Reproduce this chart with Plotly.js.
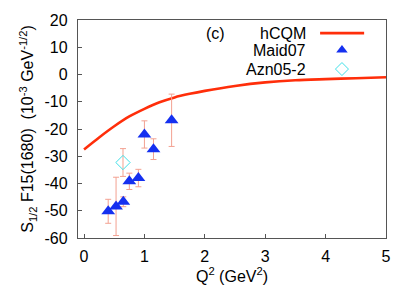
<!DOCTYPE html>
<html>
<head>
<meta charset="utf-8">
<script src="https://cdn.plot.ly/plotly-3.0.1.min.js"></script>
<style>html,body{margin:0;padding:0;background:#fff;}#chart{width:415px;height:291px;}</style>
</head>
<body>
<div id="chart"></div>
<script>
// hCQM model curve
const hcqmQ2 = [0, 0.25, 0.5, 0.75, 1.0, 1.25, 1.5, 1.75, 2.0, 2.5, 3.0, 3.5, 4.0, 4.5, 5.0];
const hcqmS = [-27.5, -23.1, -19.0, -15.4, -12.6, -10.2, -8.4, -7.1, -6.0, -4.2, -2.9, -2.1, -1.7, -1.35, -1.0];
// Maid07 points
const maidQ2 = [0.40, 0.53, 0.65, 0.75, 0.90, 1.00, 1.15, 1.45];
const maidS = [-50.2, -48.4, -46.7, -39.2, -38.0, -22.0, -27.4, -16.8];
const maidErr = [4.4, 10.7, 1.8, 3.0, 3.2, 5.0, 3.8, 9.6];
// Azn05-2 point
const aznQ2 = [0.645];
const aznS = [-32.3];
const aznErr = [5.1];
// tick labels
const xTicks = [0, 1, 2, 3, 4, 5];
const yTicks = [-60, -50, -40, -30, -20, -10, 0, 10, 20];

const FONT = 'Liberation Sans, Arial, Helvetica, sans-serif';
const RED = '#ff2e0a';
const BLUE = '#1530f0';
const CYAN = '#3fe0e8';
const ERR = '#f3a191';
const FS = 16;

const traces = [
  {x: hcqmQ2, y: hcqmS, mode: 'lines', line: {color: RED, width: 2.6, shape: 'spline', smoothing: 0.8}, showlegend: false, hoverinfo: 'skip'},
  {x: maidQ2, y: maidS, mode: 'markers', marker: {symbol: 'triangle-up', size: 12, color: BLUE},
   error_y: {type: 'data', array: maidErr, color: ERR, thickness: 1, width: 3}, showlegend: false},
  {x: aznQ2, y: aznS, mode: 'markers', marker: {symbol: 'diamond-open', size: 11, color: CYAN, line: {width: 1}},
   error_y: {type: 'data', array: aznErr, color: ERR, thickness: 1, width: 3}, showlegend: false},
  // legend samples on hidden overlay axes
  {x: [0.786, 0.929], y: [0.94, 0.94], xaxis: 'x2', yaxis: 'y2', mode: 'lines', line: {color: RED, width: 2.6}, showlegend: false, hoverinfo: 'skip'},
  {x: [0.857], y: [0.862], xaxis: 'x2', yaxis: 'y2', mode: 'markers', marker: {symbol: 'triangle-up', size: 10, color: BLUE}, showlegend: false, hoverinfo: 'skip'},
  {x: [0.857], y: [0.775], xaxis: 'x2', yaxis: 'y2', mode: 'markers', marker: {symbol: 'diamond-open', size: 10, color: CYAN, line: {width: 1}}, showlegend: false, hoverinfo: 'skip'}
];

const layout = {
  width: 415, height: 291,
  margin: {l: 78, r: 29, t: 20, b: 53, pad: 0},
  paper_bgcolor: '#fff', plot_bgcolor: '#fff',
  font: {family: FONT, size: FS, color: '#000'},
  showlegend: false,
  xaxis: {
    range: [-0.1, 5], tickvals: xTicks, ticktext: xTicks.map(String),
    ticks: 'inside', ticklen: 4, tickcolor: '#555', showline: true, linecolor: '#555', linewidth: 1.2, mirror: true,
    showgrid: false, zeroline: false, tickfont: {size: FS}, ticklabelstandoff: 4,
    title: {text: 'Q<sup>2</sup> (GeV<sup>2</sup>)', font: {size: FS}, standoff: 2}
  },
  yaxis: {
    range: [-60, 20], tickvals: yTicks, ticktext: yTicks.map(String),
    ticks: 'inside', ticklen: 4, tickcolor: '#555', showline: true, linecolor: '#555', linewidth: 1.2, mirror: true,
    showgrid: false, zeroline: false, tickfont: {size: FS}, ticklabelstandoff: 6,
    title: {text: 'S<sub>1/2</sub> F15(1680)\u00a0\u00a0(10<sup>-3</sup> GeV<sup>-1/2</sup>)', font: {size: FS}, standoff: 6}
  },
  xaxis2: {overlaying: 'x', range: [0, 1], visible: false, fixedrange: true},
  yaxis2: {overlaying: 'y', range: [0, 1], visible: false, fixedrange: true},
  annotations: [
    {xref: 'paper', yref: 'paper', x: 0.448, y: 0.94, text: '(c)', showarrow: false, xanchor: 'center', yanchor: 'middle', font: {size: FS}},
    {xref: 'paper', yref: 'paper', x: 0.747, y: 0.94, text: 'hCQM', showarrow: false, xanchor: 'right', yanchor: 'middle', font: {size: FS}},
    {xref: 'paper', yref: 'paper', x: 0.747, y: 0.858, text: 'Maid07', showarrow: false, xanchor: 'right', yanchor: 'middle', font: {size: FS}},
    {xref: 'paper', yref: 'paper', x: 0.747, y: 0.772, text: 'Azn05-2', showarrow: false, xanchor: 'right', yanchor: 'middle', font: {size: FS}}
  ]
};

Plotly.newPlot('chart', traces, layout, {staticPlot: true, displayModeBar: false});
</script>
</body>
</html>
